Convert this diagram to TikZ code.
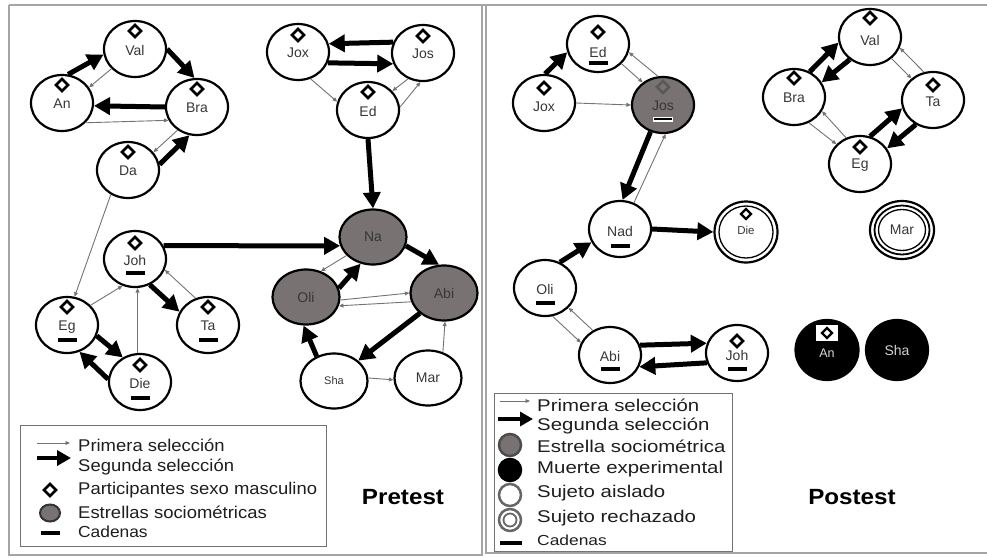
\documentclass[tikz,border=0pt]{standalone}
\usepackage{fontspec}
\setmainfont{Liberation Sans}
\newfontfamily\lgfont[FakeStretch=1.085]{Liberation Sans}
\newfontfamily\rgfont[FakeStretch=1.2]{Liberation Sans}
\newfontfamily\ttlfont[FakeStretch=1.1]{Liberation Sans}
\usetikzlibrary{shapes.geometric,arrows.meta,calc}

\definecolor{starfill}{RGB}{120,114,114}
\definecolor{lblcol}{RGB}{55,55,55}
\definecolor{thincol}{RGB}{115,115,115}
\definecolor{framecol}{RGB}{165,165,165}
\definecolor{legtext}{RGB}{30,30,30}

\tikzset{
 pers/.style={ellipse, draw=black, line width=2.2pt, fill=white, minimum width=62pt, minimum height=56pt, inner sep=0pt},
 big/.style={minimum width=67pt, minimum height=55pt},
 star/.style={fill=starfill},
 dead/.style={fill=black},
 lbl/.style={font=\fontsize{14}{14}\selectfont, text=lblcol, inner sep=0pt},
 diam/.style={diamond, draw=black, line width=2.7pt, fill=white, minimum width=13pt, minimum height=13pt, inner sep=0pt},
 chainbar/.style={rectangle, fill=black, minimum width=19pt, minimum height=3.8pt, inner sep=0pt},
 sel1/.style={draw=thincol, line width=0.9pt, -{Triangle[length=4.5pt,width=3.8pt]}},
 sel2/.style={draw=black, line width=5pt, -{Triangle[length=16pt,width=17pt]}},
 frame/.style={draw=framecol, line width=1.3pt},
 legbox/.style={rectangle, draw=black!55, line width=0.9pt, inner sep=0pt},
 lgt/.style={anchor=west, inner sep=0pt, text=legtext, font=\lgfont\fontsize{17}{17}\selectfont},
 rgt/.style={anchor=west, inner sep=0pt, text=legtext, font=\rgfont\fontsize{17}{17}\selectfont},
 ttl/.style={inner sep=0pt, text=black, font=\ttlfont\bfseries\fontsize{22}{22}\selectfont},
 ring/.style={ellipse, draw=black, line width=1.3pt, inner sep=0pt},
}

\newcommand{\PersonNode}[6][]{%
  \node[pers,#1] (#2) at (#3,#4) {};
  \node[lbl] (#2-t) at ($(#2)+(0,#6)$) {#5};}
\newcommand{\DiamondOn}[2]{\node[diam] (#1-d) at ($(#1)+(0,#2)$) {};}
\newcommand{\ChainOn}[2]{\node[chainbar] (#1-c) at ($(#1)+(0,#2)$) {};}

\begin{document}
\begin{tikzpicture}[x=1pt,y=-1pt]
\useasboundingbox (0,0) rectangle (987,557);
\fill[white] (0,0) rectangle (987,557);

% frames
\draw[frame] (9,5) -- (987,5);
\draw[frame] (9,5) -- (9,555) -- (482,555) -- (482,5);
\draw[frame] (486,5) -- (486,553) -- (987,553);

% ================= PRETEST =================
\PersonNode{pVal}{135}{49}{Val}{1} \DiamondOn{pVal}{-18}
\PersonNode{pAn}{62}{103}{An}{1} \DiamondOn{pAn}{-18}
\PersonNode{pBra}{197}{107}{Bra}{1} \DiamondOn{pBra}{-18}
\PersonNode{pDa}{128}{170}{Da}{1} \DiamondOn{pDa}{-18}
\PersonNode{pJox}{298}{52}{Jox}{1} \DiamondOn{pJox}{-17}
\PersonNode{pJos}{423}{53}{Jos}{1} \DiamondOn{pJos}{-17}
\PersonNode{pEd}{368}{110}{Ed}{1} \DiamondOn{pEd}{-18}
\PersonNode{pJoh}{135}{259}{Joh}{1} \DiamondOn{pJoh}{-16} \ChainOn{pJoh}{14}
\PersonNode{pEg}{67}{325}{Eg}{2} \DiamondOn{pEg}{-18} \ChainOn{pEg}{15}
\PersonNode{pTa}{208}{325}{Ta}{1} \DiamondOn{pTa}{-18} \ChainOn{pTa}{15}
\PersonNode{pDie}{140}{382}{Die}{1} \DiamondOn{pDie}{-17} \ChainOn{pDie}{16}
\PersonNode[big,star]{pNa}{373}{237}{Na}{0}
\PersonNode[big,star]{pOli}{306}{297}{Oli}{0}
\PersonNode[big,star]{pAbi}{444}{293}{Abi}{0}
\PersonNode[big]{pSha}{334}{381}{\fontsize{11}{11}\selectfont Sha}{0}
\PersonNode[big]{pMar}{428}{378}{Mar}{0}

% edges pretest
\draw[sel2] (pAn.78) -- (pVal.190);
\draw[sel2] (pVal.0) -- (pBra.95);
\draw[sel1] (pVal.220) -- (pAn.30);
\draw[sel2] (pBra.180) -- (pAn.355);
\draw[sel1] (pAn.320) -- (pBra.205);
\draw[sel1] (pBra.230) -- (pDa.35);
\draw[sel2] (pDa.10) -- (pBra.255);
\draw[sel1] (pDa.235) -- (pEg.75);
\draw[sel2] (pJoh.25) -- (pNa.195);
\draw[sel1] (pEg.40) -- (pJoh.245);
\draw[sel1] (pDie.95) -- (pJoh.275);
\draw[sel1] (pTa.115) -- (pJoh.340);
\draw[sel2] (pJoh.300) -- (pTa.155);
\draw[sel2] (pEg.340) -- (pDie.125);
\draw[sel2] (pDie.175) -- (pEg.295);
\draw[sel2] (pJos.160) -- (pJox.15);
\draw[sel2] (pJox.340) -- (pJos.200);
\draw[sel1] (pJox.295) -- (pEd.165);
\draw[sel1] (pJos.240) -- (pEd.38);
\draw[sel1] (pEd.5) -- (pJos.265);
\draw[sel2] (pEd.south) -- (pNa.north);
\draw[sel1] (pNa.215) -- (pOli.60);
\draw[sel2] (pOli.15) -- (pNa.245);
\draw[sel2] (pNa.345) -- (pAbi.100);
\draw[sel1] (pOli.355) -- (pAbi.180);
\draw[sel1] (pAbi.195) -- (pOli.345);
\draw[sel2] (pAbi.220) -- (pSha.40);
\draw[sel2] (pSha.125) -- (pOli.265);
\draw[sel1] (pSha.5) -- (pMar.183);
\draw[sel1] (pMar.60) -- (pAbi.272);

% legend pretest
\node[legbox, minimum width=306pt, minimum height=121pt] (legL) at (173,485.5) {};
\coordinate (lA1) at (37,443); \coordinate (lA2) at (70,443);
\draw[sel1] (lA1) -- (lA2);
\coordinate (lB1) at (37,458); \coordinate (lB2) at (71,458);
\draw[draw=black, line width=4.5pt, -{Triangle[length=14pt,width=15pt]}] (lB1) -- (lB2);
\node[diam, minimum width=13pt, minimum height=13pt] (lD) at (50,490) {};
\node[ellipse, draw=black!80, line width=2pt, fill=starfill, minimum width=20pt, minimum height=17pt, inner sep=0pt] (lS) at (50,513) {};
\node[chainbar, minimum width=19pt] (lC) at (50,533) {};
\node[lgt] (lt1) at (78,445) {Primera selección};
\node[lgt] (lt2) at (78,467) {Segunda selección};
\node[lgt] (lt3) at (78,490) {Participantes sexo masculino};
\node[lgt] (lt4) at (78,512) {Estrellas sociométricas};
\node[lgt, font=\lgfont\fontsize{16}{16}\selectfont] (lt5) at (78,532) {Cadenas};
\node[ttl] (pre) at (403,497) {Pretest};

% ================= POSTEST =================
\PersonNode{qEd}{598}{44}{Ed}{8} \DiamondOn{qEd}{-12} \ChainOn{qEd}{19}
\PersonNode{qJox}{544}{103}{Jox}{4} \DiamondOn{qJox}{-15}
\PersonNode[star]{qJos}{663}{105}{Jos}{1}
\node[diam, draw=black!65, fill=starfill] (qJos-d) at ($(qJos)+(0,-18)$) {};
\node[chainbar, draw=white, line width=1.2pt] (qJos-c) at ($(qJos)+(0,14)$) {};
\PersonNode{qVal}{870}{37}{Val}{3} \DiamondOn{qVal}{-19}
\PersonNode{qBra}{794}{97}{Bra}{1} \DiamondOn{qBra}{-19}
\PersonNode{qTa}{933}{100}{Ta}{2} \DiamondOn{qTa}{-15}
\PersonNode{qEg}{860}{164}{Eg}{1} \DiamondOn{qEg}{-17}
\PersonNode{qNad}{620}{229}{Nad}{2} \ChainOn{qNad}{17}
\PersonNode{qOli}{545}{288}{Oli}{1} \ChainOn{qOli}{15}
\PersonNode{qAbi}{610}{355}{Abi}{1} \ChainOn{qAbi}{14}
\PersonNode{qJoh}{737}{353}{Joh}{2} \DiamondOn{qJoh}{-12} \ChainOn{qJoh}{16}
% Die (rejected)
\node[pers, minimum width=63pt, minimum height=61pt] (qDie) at (746,232) {};
\node[ring, minimum width=54pt, minimum height=52pt] (qDie-r) at (qDie) {};
\node[lbl] (qDie-t) at ($(qDie)+(0,-2)$) {\fontsize{11.5}{11.5}\selectfont Die};
\node[diam, minimum width=11pt, minimum height=11pt, line width=2.3pt] (qDie-d) at ($(qDie)+(0,-18)$) {};
% Mar (rejected)
\node[pers, minimum width=64pt, minimum height=58pt] (qMar) at (902,230) {};
\node[ring, line width=1.8pt, minimum width=55pt, minimum height=49pt] (qMar-r1) at (qMar) {};
\node[ring, minimum width=47pt, minimum height=41pt] (qMar-r2) at (qMar) {};
\node[lbl] (qMar-t) at (qMar) {Mar};
% An, Sha (experimental death)
\node[pers, dead, minimum width=63pt, minimum height=60pt] (qAn) at (827,350) {};
\node[rectangle, fill=white, draw=black, line width=0.6pt, minimum width=23pt, minimum height=17pt, inner sep=0pt] (qAn-b) at (827,333) {};
\node[diam, minimum width=11pt, minimum height=11pt, line width=2.3pt] (qAn-d) at (qAn-b) {};
\node[lbl, text=white!85!black, font=\fontsize{12.5}{12.5}\selectfont] (qAn-t) at (827,353) {An};
\node[pers, dead, minimum width=62pt, minimum height=60pt] (qSha) at (897,350) {};
\node[lbl, text=white!82!black] (qSha-t) at (qSha) {Sha};

% edges postest
\draw[sel2] (qJox.88) -- (qEd.195);
\draw[sel1] (qJox.0) -- (qJos.180);
\draw[sel1] (qEd.320) -- (qJos.132);
\draw[sel1] (qJos.100) -- (qEd.345);
\draw[sel2] (qJos.245) -- (qNad.85);
\draw[sel1] (qNad.62) -- (qJos.275);
\draw[sel2] (qNad.0) -- (qDie.180);
\draw[sel2] (qOli.60) -- (qNad.205);
\draw[sel1] (qOli.285) -- (qAbi.157);
\draw[sel1] (qAbi.125) -- (qOli.320);
\draw[sel2] (qAbi.18) -- (qJoh.162);
\draw[sel2] (qJoh.198) -- (qAbi.338);
\draw[sel2] (qBra.58) -- (qVal.190);
\draw[sel2] (qVal.228) -- (qBra.28);
\draw[sel1] (qVal.315) -- (qTa.135);
\draw[sel1] (qTa.108) -- (qVal.340);
\draw[sel1] (qBra.300) -- (qEg.140);
\draw[sel1] (qEg.118) -- (qBra.333);
\draw[sel2] (qEg.70) -- (qTa.195);
\draw[sel2] (qTa.235) -- (qEg.30);

% legend postest
\node[legbox, minimum width=238pt, minimum height=158pt] (legR) at (613,472) {};
\coordinate (rA1) at (500,401); \coordinate (rA2) at (530,401);
\draw[sel1] (rA1) -- (rA2);
\coordinate (rB1) at (498,419); \coordinate (rB2) at (533,419);
\draw[draw=black, line width=4pt, -{Triangle[length=13pt,width=14pt]}] (rB1) -- (rB2);
\node[circle, draw=black!70, line width=2.5pt, fill=starfill, minimum size=22pt, inner sep=0pt] (rS) at (510,445) {};
\node[circle, draw=black, line width=2.5pt, fill=black, minimum size=22pt, inner sep=0pt] (rM) at (510,470) {};
\node[circle, draw=black!60, line width=2.5pt, fill=white, minimum size=22pt, inner sep=0pt] (rI) at (510,495) {};
\node[circle, draw=black!60, line width=2.5pt, fill=white, minimum size=22pt, inner sep=0pt] (rR) at (510,520) {};
\node[circle, draw=black!60, line width=1.8pt, minimum size=13pt, inner sep=0pt] (rR2) at (rR) {};
\node[chainbar, minimum width=22pt] (rC) at (511,543) {};
\node[rgt] (rt1) at (537,405) {Primera selección};
\node[rgt] (rt2) at (537,426) {Segunda selección};
\node[rgt] (rt3) at (537,446) {Estrella sociométrica};
\node[rgt] (rt4) at (537,469) {Muerte experimental};
\node[rgt] (rt5) at (537,493) {Sujeto aislado};
\node[rgt] (rt6) at (537,518) {Sujeto rechazado};
\node[rgt, font=\rgfont\fontsize{14.5}{14.5}\selectfont] (rt7) at (537,540) {Cadenas};
\node[ttl] (post) at (852,497) {Postest};
\end{tikzpicture}
\end{document}
